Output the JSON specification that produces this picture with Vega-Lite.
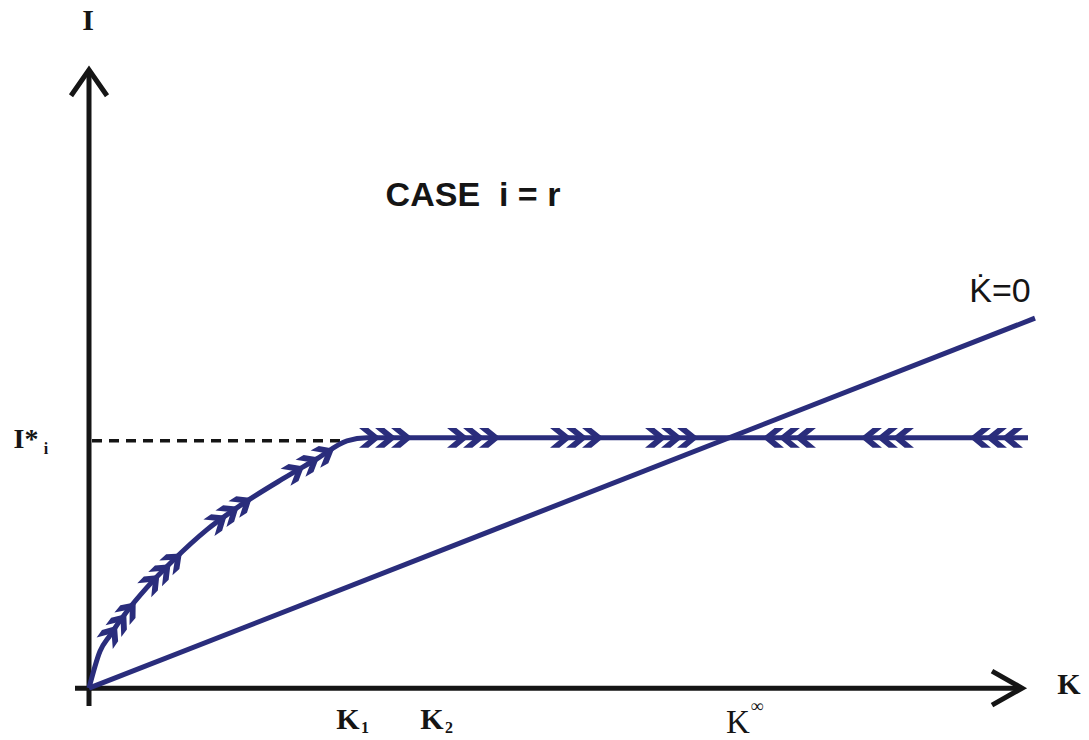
{
  "$schema": "https://vega.github.io/schema/vega-lite/v6.json",
  "width": 1089,
  "height": 740,
  "autosize": {"type": "fit", "contains": "padding"},
  "padding": 0,
  "background": "white",
  "config": {"view": {"stroke": null}},
  "encoding": {
    "x": {"field": "K", "type": "quantitative", "scale": {"domain": [-89, 1000], "nice": false, "zero": false}, "axis": null},
    "y": {"field": "I", "type": "quantitative", "scale": {"domain": [-50, 690], "nice": false, "zero": false}, "axis": null}
  },
  "layer": [
    {
      "data": {"values": [
        {"seg": "yaxis", "ord": 0, "K": 0, "I": -18},
        {"seg": "yaxis", "ord": 1, "K": 0, "I": 620},
        {"seg": "yarrow", "ord": 0, "K": -18, "I": 594},
        {"seg": "yarrow", "ord": 1, "K": 0, "I": 620},
        {"seg": "yarrow", "ord": 2, "K": 18, "I": 594},
        {"seg": "xaxis", "ord": 0, "K": -14, "I": 0},
        {"seg": "xaxis", "ord": 1, "K": 933, "I": 0},
        {"seg": "xarrow", "ord": 0, "K": 903, "I": 17},
        {"seg": "xarrow", "ord": 1, "K": 933, "I": 0},
        {"seg": "xarrow", "ord": 2, "K": 903, "I": -17}
      ]},
      "mark": {"type": "line", "color": "#151515", "strokeWidth": 5, "strokeCap": "butt", "strokeJoin": "miter"},
      "encoding": {"detail": {"field": "seg"}, "order": {"field": "ord"}}
    },
    {
      "data": {"values": [
        {"K": 3, "I": 248},
        {"K": 256, "I": 248}
      ]},
      "mark": {"type": "line", "color": "#151515", "strokeWidth": 3.5, "strokeDash": [10, 7]},
      "encoding": {}
    },
    {
      "data": {"values": [
        {"series": "path", "ord": 0, "K": 0, "I": 0},
        {"series": "path", "ord": 1, "K": 11, "I": 37},
        {"series": "path", "ord": 2, "K": 21, "I": 53},
        {"series": "path", "ord": 3, "K": 38, "I": 77},
        {"series": "path", "ord": 4, "K": 58, "I": 101},
        {"series": "path", "ord": 5, "K": 84, "I": 128},
        {"series": "path", "ord": 6, "K": 118, "I": 159},
        {"series": "path", "ord": 7, "K": 151, "I": 183},
        {"series": "path", "ord": 8, "K": 194, "I": 210},
        {"series": "path", "ord": 9, "K": 228, "I": 230},
        {"series": "path", "ord": 10, "K": 258, "I": 248},
        {"series": "path", "ord": 11, "K": 278, "I": 251},
        {"series": "path", "ord": 12, "K": 939, "I": 251},
        {"series": "kdot", "ord": 0, "K": 0, "I": 0},
        {"series": "kdot", "ord": 1, "K": 946, "I": 371}
      ]},
      "mark": {"type": "line", "color": "#2a2d7c", "strokeWidth": 5, "interpolate": "monotone"},
      "encoding": {"detail": {"field": "series"}, "order": {"field": "ord"}}
    },
    {
      "data": {"values": [
        {"K": 22, "I": 54, "dir": 305},
        {"K": 31, "I": 66, "dir": 307},
        {"K": 40, "I": 78, "dir": 310},
        {"K": 63, "I": 106, "dir": 315},
        {"K": 74, "I": 117, "dir": 316},
        {"K": 85, "I": 128, "dir": 318},
        {"K": 129, "I": 167, "dir": 326},
        {"K": 141, "I": 176, "dir": 326},
        {"K": 154, "I": 185, "dir": 327},
        {"K": 206, "I": 217, "dir": 330},
        {"K": 221, "I": 226, "dir": 330},
        {"K": 236, "I": 235, "dir": 331},
        {"K": 281, "I": 251, "dir": 0},
        {"K": 297, "I": 251, "dir": 0},
        {"K": 313, "I": 251, "dir": 0},
        {"K": 369, "I": 251, "dir": 0},
        {"K": 385, "I": 251, "dir": 0},
        {"K": 401, "I": 251, "dir": 0},
        {"K": 472, "I": 251, "dir": 0},
        {"K": 488, "I": 251, "dir": 0},
        {"K": 504, "I": 251, "dir": 0},
        {"K": 567, "I": 251, "dir": 0},
        {"K": 583, "I": 251, "dir": 0},
        {"K": 599, "I": 251, "dir": 0},
        {"K": 684, "I": 251, "dir": 180},
        {"K": 700, "I": 251, "dir": 180},
        {"K": 716, "I": 251, "dir": 180},
        {"K": 782, "I": 251, "dir": 180},
        {"K": 798, "I": 251, "dir": 180},
        {"K": 814, "I": 251, "dir": 180},
        {"K": 891, "I": 251, "dir": 180},
        {"K": 907, "I": 251, "dir": 180},
        {"K": 923, "I": 251, "dir": 180}
      ]},
      "mark": {"type": "point", "shape": "M-1,-0.9L-0.15,-0.9L0.95,0L-0.15,0.9L-1,0.9L0.1,0Z", "filled": true, "color": "#2a2d7c", "opacity": 1, "size": 480},
      "encoding": {"angle": {"field": "dir", "type": "quantitative", "scale": null}}
    },
    {
      "data": {"values": [
        {"label": "I", "K": -1, "I": 669},
        {"label": "K", "K": 980, "I": 3},
        {"label": "K", "K": 259, "I": -32},
        {"label": "K", "K": 343, "I": -32}
      ]},
      "mark": {"type": "text", "font": "Liberation Serif", "fontWeight": "bold", "fontSize": 30, "align": "center", "baseline": "middle", "color": "#151515"},
      "encoding": {"text": {"field": "label"}}
    },
    {
      "data": {"values": [
        {"label": "1", "K": 276, "I": -40},
        {"label": "2", "K": 360, "I": -40},
        {"label": "i", "K": -43, "I": 240}
      ]},
      "mark": {"type": "text", "font": "Liberation Serif", "fontWeight": "bold", "fontSize": 16, "align": "center", "baseline": "middle", "color": "#151515"},
      "encoding": {"text": {"field": "label"}}
    },
    {
      "data": {"values": [
        {"label": "I*", "K": -63, "I": 249}
      ]},
      "mark": {"type": "text", "font": "Liberation Serif", "fontWeight": "bold", "fontSize": 28, "align": "center", "baseline": "middle", "color": "#151515"},
      "encoding": {"text": {"field": "label"}}
    },
    {
      "data": {"values": [
        {"label": "K", "K": 649, "I": -35}
      ]},
      "mark": {"type": "text", "font": "Liberation Serif", "fontSize": 33, "align": "center", "baseline": "middle", "color": "#151515"},
      "encoding": {"text": {"field": "label"}}
    },
    {
      "data": {"values": [
        {"label": "∞", "K": 668, "I": -19}
      ]},
      "mark": {"type": "text", "font": "Liberation Serif", "fontSize": 18, "align": "center", "baseline": "middle", "color": "#151515"},
      "encoding": {"text": {"field": "label"}}
    },
    {
      "data": {"values": [
        {"label": "CASE\u00a0\u00a0i = r", "K": 384, "I": 493}
      ]},
      "mark": {"type": "text", "font": "Liberation Sans", "fontWeight": "bold", "fontSize": 34, "align": "center", "baseline": "middle", "color": "#151515"},
      "encoding": {"text": {"field": "label"}}
    },
    {
      "data": {"values": [
        {"label": "K̇=0", "K": 911, "I": 397}
      ]},
      "mark": {"type": "text", "font": "Liberation Sans", "fontSize": 34, "align": "center", "baseline": "middle", "color": "#151515"},
      "encoding": {"text": {"field": "label"}}
    }
  ]
}
